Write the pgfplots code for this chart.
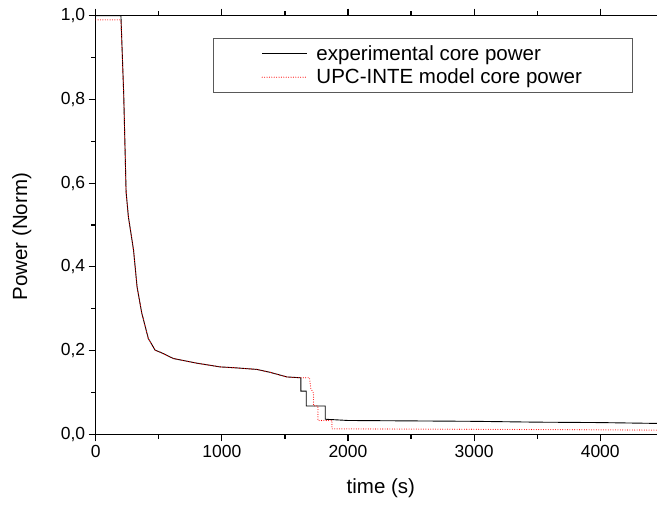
\documentclass[border=0pt]{standalone}
\usepackage{fontspec}
\setmainfont{Liberation Sans}
\usepackage{pgfplots}
\pgfplotsset{compat=1.18}

\begin{document}
\begin{tikzpicture}
\begin{axis}[
  name=ax,
  scale only axis,
  width=561.3bp, height=418.6bp,
  xmin=0, xmax=4450, ymin=0, ymax=1,
  axis x line*=box, axis y line*=left,
  axis line style={line width=1.2bp, black},
  xtick={0,1000,2000,3000,4000},
  ytick={0,0.2,0.4,0.6,0.8,1.0},
  minor x tick num=1, minor y tick num=1,
  tick align=outside,
  major tick length=7bp, minor tick length=4.5bp,
  every tick/.style={line width=1.2bp, black},
  tick label style={font=\fontsize{17.5bp}{20bp}\selectfont},
  /pgf/number format/assume math mode=true,
  yticklabel style={/pgf/number format/.cd, use comma, fixed, fixed zerofill, precision=1},
  xticklabel style={/pgf/number format/.cd, fixed, 1000 sep={}},
  xlabel={time (s)}, ylabel={Power (Norm)},
  every axis x label/.style={at={(axis description cs:0.508,-0.1283)}, anchor=center, font=\fontsize{20.5bp}{24bp}\selectfont},
  every axis y label/.style={at={(axis description cs:-0.1318,0.472)}, rotate=90, anchor=center, font=\fontsize{20.5bp}{24bp}\selectfont},
  legend style={at={(axis description cs:0.2095,0.946)}, anchor=north west, draw=black!65, line width=0.8bp,
    font=\fontsize{20.5bp}{24bp}\selectfont, inner xsep=48bp, inner ysep=5bp, row sep=3bp,
    /tikz/every odd column/.append style={column sep=7bp}},
  legend cell align=left,
  legend image code/.code={\draw[#1] (0bp,0bp) -- (44.7bp,0bp);},
]
\addplot[draw=black, line width=0.9bp] coordinates {
(0,1.0) (200,1.0) (222,0.813) (232,0.69) (241,0.579) (259,0.52) (300,0.44) (328,0.352)
(365,0.29) (417,0.229) (471,0.201) (520,0.195) (616,0.181) (800,0.17) (987,0.161)
(1100,0.159) (1278,0.155) (1383,0.148) (1516,0.137) (1627,0.135) (1627,0.103)
(1669,0.103) (1669,0.0675) (1820,0.0675) (1820,0.036) (2000,0.033) (2500,0.032)
(3000,0.031) (3500,0.029) (4000,0.028) (4450,0.026)
};
\addlegendentry{experimental core power}
\addplot[draw=red, color=red, line width=1.1bp, line cap=round, dash pattern=on 0bp off 2.4bp] coordinates {
(0,0.99) (200,0.99) (222,0.813) (232,0.69) (241,0.579) (259,0.52) (300,0.44) (328,0.352)
(365,0.29) (417,0.229) (471,0.201) (520,0.195) (616,0.181) (800,0.17) (987,0.161)
(1100,0.159) (1278,0.155) (1383,0.148) (1516,0.137) (1627,0.135) (1695,0.135)
(1705,0.11) (1727,0.098) (1727,0.068) (1762,0.068) (1762,0.033) (1873,0.033)
(1873,0.013) (3000,0.012) (4450,0.010)
};
\addlegendentry{UPC-INTE model core power}
\end{axis}
\pgfresetboundingbox
\path[use as bounding box] ([xshift=-95.7bp,yshift=-71.7bp]ax.south west) rectangle ([yshift=15.7bp]ax.north east);
\end{tikzpicture}
\end{document}
